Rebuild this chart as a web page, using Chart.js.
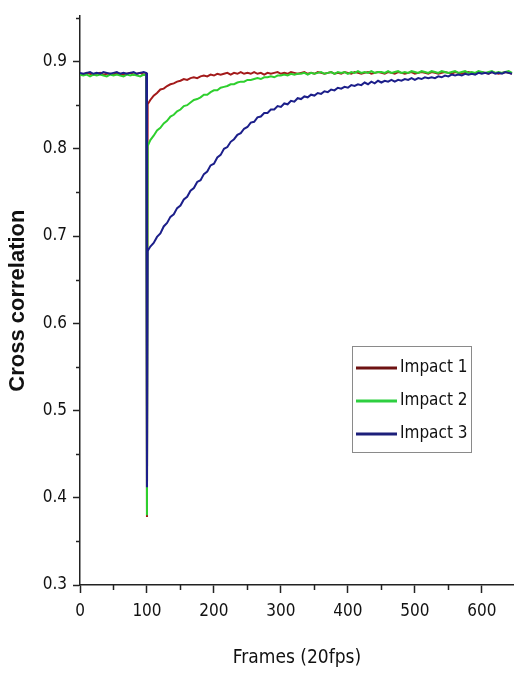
<!DOCTYPE html>
<html>
<head>
<meta charset="utf-8">
<script src="https://cdn.jsdelivr.net/npm/chart.js@4"></script>
<style>
html,body{margin:0;padding:0;background:#fff;}
#wrap{width:514px;height:674px;}
</style>
</head>
<body>
<div id="wrap"><canvas id="c" width="514" height="674"></canvas></div>
<script>
const seriesNames = ["Impact 1", "Impact 2", "Impact 3"];
const xTicks = [0, 100, 200, 300, 400, 500, 600];
const yTicks = [0.3, 0.4, 0.5, 0.6, 0.7, 0.8, 0.9];

const frames = [0,5,10,15,20,25,30,35,40,45,50,55,60,65,70,75,80,85,90,95,99,100,101,
105,110,115,120,125,130,135,140,145,150,155,160,165,170,175,180,185,190,195,200,
205,210,215,220,225,230,235,240,245,250,255,260,265,270,275,280,285,290,295,300,
305,310,315,320,325,330,335,340,345,350,355,360,365,370,375,380,385,390,395,400,
405,410,415,420,425,430,435,440,445,450,455,460,465,470,475,480,485,490,495,500,
505,510,515,520,525,530,535,540,545,550,555,560,565,570,575,580,585,590,595,600,
605,610,615,620,625,630,635,640,645];

const impact1 = [0.886,0.885,0.887,0.886,0.885,0.886,0.887,0.885,0.886,0.886,0.885,0.887,0.886,0.885,0.886,0.887,0.885,0.886,0.887,0.885,0.886,0.378,0.851,
0.856,0.861,0.864,0.868,0.869,0.872,0.874,0.875,0.877,0.878,0.880,0.879,0.881,0.882,0.881,0.883,0.884,0.883,0.885,0.884,
0.886,0.885,0.886,0.887,0.885,0.887,0.886,0.888,0.886,0.887,0.886,0.888,0.886,0.887,0.885,0.887,0.886,0.887,0.888,0.886,
0.887,0.886,0.888,0.887,0.886,0.887,0.888,0.886,0.887,0.886,0.888,0.887,0.886,0.887,0.888,0.886,0.887,0.886,0.888,0.887,
0.886,0.888,0.887,0.886,0.887,0.888,0.886,0.887,0.888,0.887,0.886,0.888,0.887,0.886,0.888,0.887,0.886,0.887,0.888,0.886,
0.887,0.888,0.887,0.886,0.888,0.887,0.886,0.887,0.888,0.887,0.886,0.888,0.887,0.886,0.887,0.888,0.887,0.886,0.887,0.888,
0.887,0.886,0.888,0.887,0.886,0.887,0.888,0.887,0.886];

const impact2 = [0.885,0.884,0.885,0.883,0.885,0.884,0.885,0.884,0.883,0.885,0.884,0.885,0.884,0.883,0.885,0.884,0.885,0.884,0.883,0.885,0.884,0.380,0.803,
0.810,0.815,0.821,0.824,0.829,0.832,0.837,0.839,0.843,0.845,0.849,0.850,0.853,0.856,0.857,0.859,0.862,0.862,0.865,0.867,
0.867,0.870,0.871,0.872,0.874,0.874,0.876,0.877,0.877,0.879,0.879,0.880,0.881,0.880,0.882,0.882,0.883,0.882,0.884,0.884,
0.885,0.884,0.886,0.885,0.886,0.886,0.887,0.885,0.887,0.886,0.887,0.888,0.886,0.887,0.888,0.886,0.888,0.887,0.888,0.886,
0.888,0.887,0.889,0.887,0.888,0.887,0.889,0.887,0.888,0.888,0.887,0.889,0.887,0.888,0.889,0.887,0.888,0.887,0.889,0.888,
0.887,0.889,0.888,0.887,0.889,0.888,0.887,0.889,0.888,0.887,0.888,0.889,0.887,0.888,0.889,0.887,0.888,0.887,0.889,0.888,
0.887,0.888,0.889,0.887,0.888,0.887,0.888,0.889,0.887];

const impact3 = [0.887,0.886,0.887,0.888,0.886,0.887,0.886,0.888,0.887,0.886,0.887,0.888,0.886,0.887,0.886,0.887,0.888,0.886,0.887,0.888,0.887,0.412,0.683,
0.688,0.692,0.699,0.703,0.711,0.715,0.722,0.725,0.732,0.735,0.742,0.745,0.752,0.755,0.762,0.764,0.771,0.774,0.781,0.783,
0.790,0.793,0.800,0.802,0.808,0.811,0.816,0.818,0.823,0.825,0.830,0.831,0.836,0.837,0.841,0.841,0.845,0.845,0.849,0.848,
0.852,0.851,0.855,0.854,0.858,0.857,0.860,0.859,0.862,0.861,0.864,0.863,0.866,0.865,0.868,0.867,0.870,0.869,0.871,0.870,
0.873,0.872,0.874,0.873,0.876,0.874,0.877,0.875,0.878,0.876,0.878,0.877,0.879,0.877,0.879,0.878,0.880,0.879,0.881,0.879,
0.881,0.880,0.882,0.881,0.882,0.881,0.883,0.882,0.884,0.883,0.885,0.884,0.885,0.884,0.886,0.885,0.886,0.885,0.887,0.886,
0.887,0.886,0.888,0.886,0.887,0.886,0.888,0.887,0.886];

const seriesValues = [impact1, impact2, impact3];
const seriesColors = ["#a31a1a", "#2ecf2e", "#1c1f8a"];
const legendColors = ["#6e1212", "#2ecf40", "#1c1f7a"];
const xMinor = [50, 150, 250, 350, 450, 550];
const yMinor = [0.35, 0.45, 0.55, 0.65, 0.75, 0.85, 0.95];

const narrow = "'Liberation Sans Narrow', 'DejaVu Sans Condensed', 'Roboto Condensed', 'Liberation Sans', sans-serif";

const datasets = seriesNames.map((name, k) => ({
  label: name,
  data: frames.map((f, i) => ({x: f, y: seriesValues[k][i]})),
  borderColor: seriesColors[k],
  backgroundColor: seriesColors[k],
  borderWidth: 2,
  pointRadius: 0,
  tension: 0,
  fill: false,
  order: 2 - k
}));

const minorTicks = {
  id: 'minorTicks',
  afterDraw(chart) {
    const ctx = chart.ctx, xs = chart.scales.x, ys = chart.scales.y;
    const area = chart.chartArea;
    ctx.save();
    ctx.strokeStyle = '#222';
    ctx.lineWidth = 1.5;
    xMinor.forEach(v => {
      const px = Math.round(xs.getPixelForValue(v)) + 0.5;
      ctx.beginPath(); ctx.moveTo(px, area.bottom); ctx.lineTo(px, area.bottom + 5); ctx.stroke();
    });
    yMinor.forEach(v => {
      const py = Math.round(ys.getPixelForValue(v)) + 0.5;
      ctx.beginPath(); ctx.moveTo(area.left, py); ctx.lineTo(area.left - 4, py); ctx.stroke();
    });
    ctx.restore();
  }
};

const boxLegend = {
  id: 'boxLegend',
  afterDraw(chart) {
    const ctx = chart.ctx;
    const left = 352, top = 346, w = 119, h = 106;
    ctx.save();
    ctx.strokeStyle = '#8a8a8a';
    ctx.lineWidth = 1;
    ctx.strokeRect(left + 0.5, top + 0.5, w, h);
    ctx.font = "17px " + narrow;
    ctx.textBaseline = 'middle';
    ctx.textAlign = 'left';
    chart.data.datasets.forEach((ds, i) => {
      const y = top + 22 + i * 33;
      ctx.strokeStyle = legendColors[i];
      ctx.lineWidth = 3;
      ctx.beginPath(); ctx.moveTo(left + 4, y); ctx.lineTo(left + 45, y); ctx.stroke();
      ctx.fillStyle = '#111';
      ctx.fillText(ds.label, left + 48, y);
    });
    ctx.restore();
  }
};

new Chart(document.getElementById('c'), {
  type: 'line',
  data: { datasets },
  options: {
    responsive: false,
    animation: false,
    devicePixelRatio: 1,
    layout: { padding: { top: 9, right: 0, left: 0, bottom: 0 } },
    plugins: { legend: { display: false }, tooltip: { enabled: false } },
    scales: {
      x: {
        type: 'linear',
        min: 0, max: 648,
        afterFit(s) { s.height = 89; },
        afterBuildTicks(s) { s.ticks = xTicks.map(v => ({value: v})); },
        ticks: { color: '#111', font: { family: narrow, size: 17 }, padding: 8, maxRotation: 0,
                 callback: v => String(v) },
        grid: { drawOnChartArea: false, tickLength: 8, tickWidth: 1.5, tickColor: '#222' },
        border: { display: true, color: '#222', width: 1.5 },
        title: { display: true, text: 'Frames (20fps)', color: '#111',
                 font: { family: narrow, size: 19 }, padding: { top: 0, bottom: 5 } }
      },
      y: {
        type: 'linear',
        min: 0.3, max: 0.952,
        afterFit(s) { s.width = 80; },
        afterBuildTicks(s) { s.ticks = yTicks.map(v => ({value: v})); },
        ticks: { color: '#111', font: { family: narrow, size: 17 }, padding: 6,
                 callback: v => v.toFixed(1) },
        grid: { drawOnChartArea: false, tickLength: 7, tickWidth: 1.5, tickColor: '#222' },
        border: { display: true, color: '#222', width: 1.5 },
        title: { display: true, text: 'Cross correlation', color: '#111',
                 font: { family: "'Liberation Sans', Arial, sans-serif", size: 22, weight: 'bold' },
                 padding: { top: 5, bottom: 0 } }
      }
    }
  },
  plugins: [minorTicks, boxLegend]
});
</script>
</body>
</html>
